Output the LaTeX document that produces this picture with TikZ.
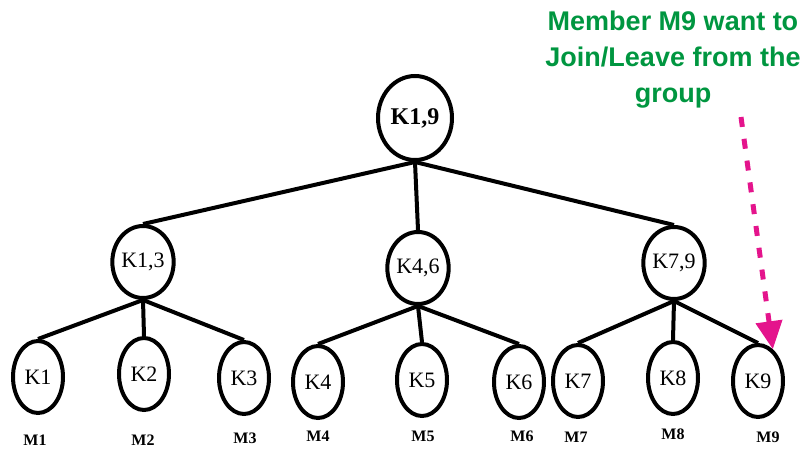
\documentclass[tikz,border=0pt]{standalone}
\usepackage{fontspec}
\setmainfont{Liberation Serif}
\newfontfamily\notefont{Liberation Sans}
\usetikzlibrary{shapes.geometric,arrows.meta}
\definecolor{notegreen}{RGB}{0,150,64}
\definecolor{hotpink}{RGB}{228,20,140}
\tikzset{
  keynode/.style={ellipse, draw, line width=4pt, inner sep=0pt,
    minimum width=50pt, minimum height=72pt, font=\fontsize{22}{22}\selectfont},
  rootnode/.style={keynode, minimum width=74pt, minimum height=84pt,
    font=\fontsize{24}{24}\selectfont\bfseries},
  member/.style={font=\fontsize{16}{16}\selectfont\bfseries, inner sep=0pt},
  branch/.style={line width=4pt},
  note/.style={font=\notefont\fontsize{27}{36}\selectfont\bfseries,
    text=notegreen, align=center, inner sep=0pt},
  signal/.style={hotpink, line width=5pt, dash pattern=on 10pt off 12pt,
    -{Triangle[length=28pt,width=26pt]}}
}
\begin{document}
\begin{tikzpicture}[x=1pt,y=-1pt]
\useasboundingbox (0,0) rectangle (804,450);

% root key
\node[rootnode] (root) at (415,118) {K1,9};

% subgroup keys
\node[keynode] (k13) at (143,262) {K1,3};
\node[keynode] (k46) at (418,268) {K4,6};
\node[keynode, minimum width=48pt] (k79) at (674,263) {K7,9};

% member keys
\node[keynode] (k1) at (38,377) {K1};
\node[keynode] (k2) at (144,374) {K2};
\node[keynode] (k3) at (244,378) {K3};
\node[keynode] (k4) at (318,382) {K4};
\node[keynode] (k5) at (422,380) {K5};
\node[keynode] (k6) at (519,382) {K6};
\node[keynode] (k7) at (578,381) {K7};
\node[keynode] (k8) at (673,378) {K8};
\node[keynode] (k9) at (758,381) {K9};

% member names
\node[member] (m1) at (35,440) {M1};
\node[member] (m2) at (143,440) {M2};
\node[member] (m3) at (245,438) {M3};
\node[member] (m4) at (318,436) {M4};
\node[member] (m5) at (423,436) {M5};
\node[member] (m6) at (522,436) {M6};
\node[member] (m7) at (576,437) {M7};
\node[member] (m8) at (673,434) {M8};
\node[member] (m9) at (768,437) {M9};

% tree edges
\draw[branch] (root.south) -- (k13.north);
\draw[branch] (root.south) -- (k46.north);
\draw[branch] (root.south) -- (k79.north);
\foreach \p/\a/\b/\c in {k13/k1/k2/k3, k46/k4/k5/k6, k79/k7/k8/k9} {
  \draw[branch] (\p.south) -- (\a.north);
  \draw[branch] (\p.south) -- (\b.north);
  \draw[branch] (\p.south) -- (\c.north);
}

% join / leave notice
\node[note] (msg) at (673,60) {Member M9 want to\\Join/Leave from the\\group};
\coordinate (src) at (741,117);
\draw[signal] (src) -- (k9.65);
\end{tikzpicture}
\end{document}
